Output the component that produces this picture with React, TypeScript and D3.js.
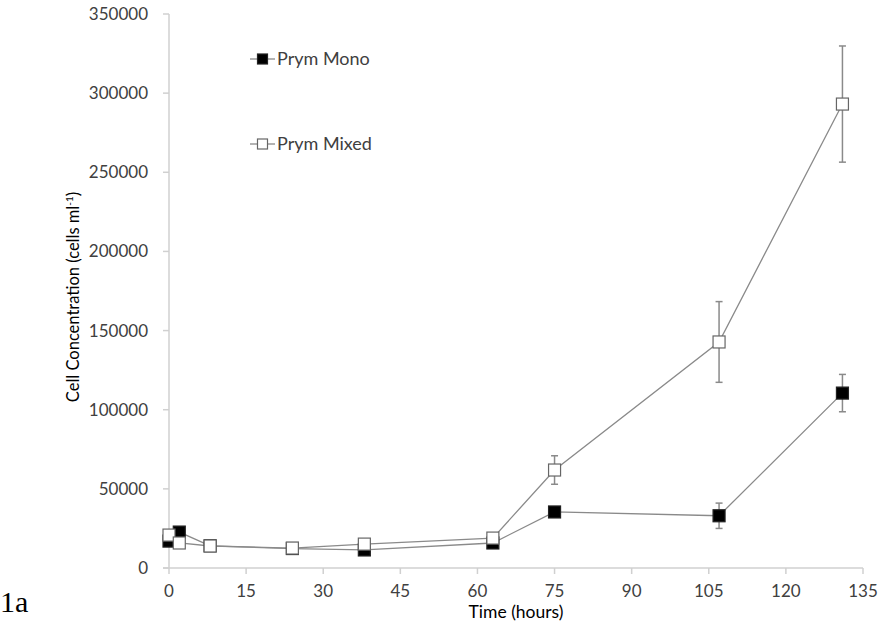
import React, { useEffect, useRef } from "react";
import * as d3 from "d3";

// Sampling times (hours)
const hours = [0, 2, 8, 24, 38, 63, 75, 107, 131];
// Prym Mono: mean concentration and error (cells ml^-1)
const monoValues = [17000, 22700, 14000, 12300, 11400, 15800, 35400, 33000, 110500];
const monoErrors = [0, 0, 0, 0, 0, 0, 0, 8000, 11800];
// Prym Mixed: mean concentration and error (cells ml^-1)
const mixedValues = [20800, 15800, 13900, 12600, 15100, 18900, 61900, 142800, 293100];
const mixedErrors = [0, 0, 0, 0, 0, 0, 9000, 25500, 36700];

const xTicks = [0, 15, 30, 45, 60, 75, 90, 105, 120, 135];
const yTicks = [0, 50000, 100000, 150000, 200000, 250000, 300000, 350000];

const W = 882;
const H = 627;
const FONT = "Lato, 'Open Sans', sans-serif";

export default function App() {
  const ref = useRef<SVGSVGElement | null>(null);

  useEffect(() => {
    const svg = d3.select(ref.current);
    svg.selectAll("*").remove();

    const x = d3.scaleLinear().domain([0, 135]).range([169, 863]);
    const y = d3.scaleLinear().domain([0, 350000]).range([568, 14]);
    const axisColor = "#d0d0d0";
    const textColor = "#404040";

    // Y axis
    svg.append("line")
      .attr("x1", x(0)).attr("x2", x(0))
      .attr("y1", y(0)).attr("y2", y(350000))
      .attr("stroke", axisColor).attr("stroke-width", 1.5);
    const yt = svg.append("g");
    yTicks.forEach((t) => {
      yt.append("line")
        .attr("x1", x(0) - 6).attr("x2", x(0))
        .attr("y1", y(t)).attr("y2", y(t))
        .attr("stroke", axisColor).attr("stroke-width", 1.5);
      yt.append("text")
        .attr("x", x(0) - 21).attr("y", y(t))
        .attr("dy", "0.35em")
        .attr("text-anchor", "end")
        .attr("font-family", FONT).attr("font-size", 17)
        .attr("fill", textColor)
        .text(String(t));
    });

    // X axis
    svg.append("line")
      .attr("x1", x(0) - 6).attr("x2", x(135))
      .attr("y1", y(0)).attr("y2", y(0))
      .attr("stroke", axisColor).attr("stroke-width", 1.5);
    xTicks.forEach((t) => {
      svg.append("line")
        .attr("x1", x(t)).attr("x2", x(t))
        .attr("y1", y(0)).attr("y2", y(0) + 6)
        .attr("stroke", axisColor).attr("stroke-width", 1.5);
      svg.append("text")
        .attr("x", x(t)).attr("y", 597)
        .attr("text-anchor", "middle")
        .attr("font-family", FONT).attr("font-size", 17)
        .attr("fill", textColor)
        .text(String(t));
    });

    // Axis titles
    svg.append("text")
      .attr("x", 516).attr("y", 618)
      .attr("text-anchor", "middle")
      .attr("font-family", FONT).attr("font-size", 17.5)
      .attr("fill", "#000")
      .text("Time (hours)");

    const yt2 = svg.append("text")
      .attr("transform", `translate(79, 297) rotate(-90)`)
      .attr("text-anchor", "middle")
      .attr("font-family", FONT).attr("font-size", 16.5)
      .attr("fill", "#000");
    yt2.append("tspan").text("Cell Concentration (cells ml");
    yt2.append("tspan").attr("font-size", 10).attr("dy", -6).text("-1");
    yt2.append("tspan").attr("dy", 6).text(")");

    // Panel label
    svg.append("text")
      .attr("x", 0).attr("y", 612)
      .attr("font-family", "'Liberation Serif', 'Times New Roman', serif")
      .attr("font-size", 30)
      .attr("fill", "#000")
      .text("1a");

    const series = [
      { values: monoValues, errors: monoErrors, fill: "#000000", stroke: "#222" },
      { values: mixedValues, errors: mixedErrors, fill: "#ffffff", stroke: "#666" },
    ];

    const line = d3.line<number>()
      .x((_, i) => x(hours[i]))
      .y((d) => y(d));

    // Connecting lines
    series.forEach((s) => {
      svg.append("path")
        .attr("d", line(s.values) as string)
        .attr("fill", "none")
        .attr("stroke", "#8a8a8a")
        .attr("stroke-width", 1.3);
    });

    // Error bars
    series.forEach((s) => {
      s.values.forEach((v, i) => {
        const e = s.errors[i];
        if (!e) return;
        const cx = x(hours[i]);
        const g = svg.append("g").attr("stroke", "#8a8a8a").attr("stroke-width", 1.5);
        g.append("line").attr("x1", cx).attr("x2", cx).attr("y1", y(v + e)).attr("y2", y(v - e));
        g.append("line").attr("x1", cx - 3.5).attr("x2", cx + 3.5).attr("y1", y(v + e)).attr("y2", y(v + e));
        g.append("line").attr("x1", cx - 3.5).attr("x2", cx + 3.5).attr("y1", y(v - e)).attr("y2", y(v - e));
      });
    });

    // Square markers
    const size = 12;
    series.forEach((s) => {
      s.values.forEach((v, i) => {
        svg.append("rect")
          .attr("x", x(hours[i]) - size / 2)
          .attr("y", y(v) - size / 2)
          .attr("width", size).attr("height", size)
          .attr("fill", s.fill)
          .attr("stroke", s.stroke)
          .attr("stroke-width", 1.2);
      });
    });

    // Legend
    const legend = [
      { label: "Prym Mono", fill: "#000000", stroke: "#222", y: 59 },
      { label: "Prym Mixed", fill: "#ffffff", stroke: "#666", y: 144 },
    ];
    legend.forEach((l) => {
      svg.append("line")
        .attr("x1", 250).attr("x2", 275)
        .attr("y1", l.y).attr("y2", l.y)
        .attr("stroke", "#8a8a8a").attr("stroke-width", 1.3);
      svg.append("rect")
        .attr("x", 262.5 - 5).attr("y", l.y - 5)
        .attr("width", 10).attr("height", 10)
        .attr("fill", l.fill).attr("stroke", l.stroke).attr("stroke-width", 1.2);
      svg.append("text")
        .attr("x", 277).attr("y", l.y)
        .attr("dy", "0.35em")
        .attr("font-family", FONT).attr("font-size", 18)
        .attr("fill", textColor)
        .text(l.label);
    });
  }, []);

  return (
    <svg
      ref={ref}
      width={W}
      height={H}
      style={{ position: "absolute", left: 0, top: 0, background: "#fff" }}
    />
  );
}
